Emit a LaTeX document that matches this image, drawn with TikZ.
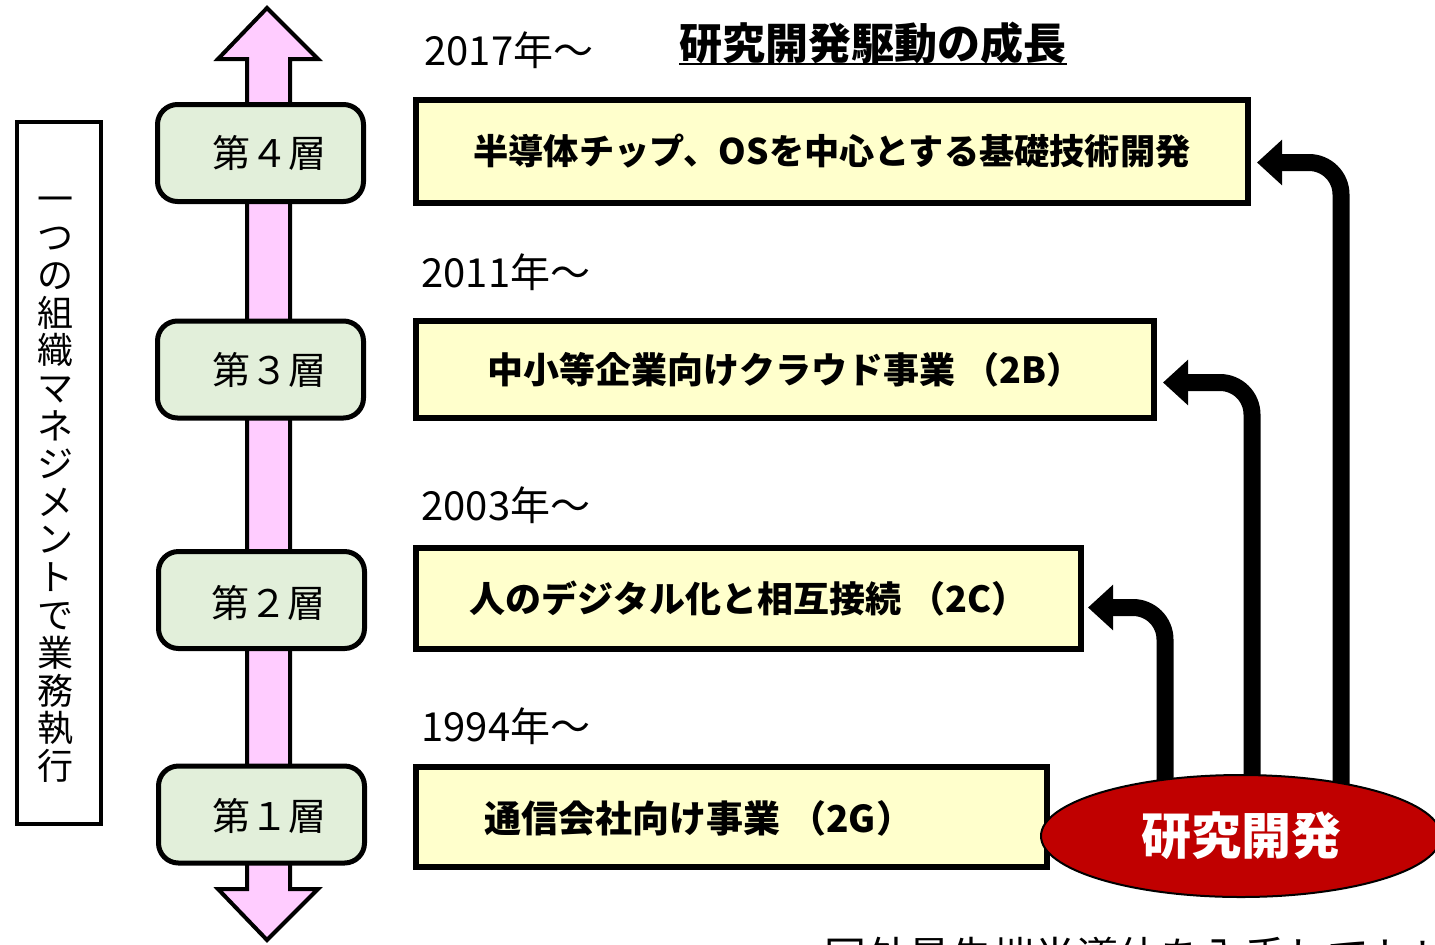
\documentclass[tikz,border=0pt]{standalone}
\usepackage{fontspec}
\newfontfamily\jp{Noto Sans CJK JP}
\usetikzlibrary{arrows.meta,backgrounds,shapes.geometric}
\definecolor{pinkfill}{HTML}{FFCCFF}
\definecolor{layergreen}{HTML}{E2EFDA}
\definecolor{boxyellow}{HTML}{FFFFCC}
\definecolor{rdred}{HTML}{C00000}
\begin{document}
\begin{tikzpicture}[x=0.5pt,y=-0.5pt,
  layerbox/.style={draw, line width=2.5pt, rounded corners=10pt, fill=layergreen,
    minimum width=103pt, minimum height=48.5pt, inner sep=0pt},
  layertxt/.style={inner sep=0pt, font=\jp\fontsize{19pt}{19pt}\selectfont},
  bizbox/.style={draw, line width=3pt, fill=boxyellow, inner sep=0pt,
    font=\jp\bfseries\fontsize{18pt}{18pt}\selectfont},
  yearlbl/.style={anchor=west, inner sep=0pt, font=\jp\fontsize{20pt}{20pt}\selectfont},
  conn/.style={line width=8.5pt, rounded corners=16pt,
    -{Triangle[length=12.5pt,width=22pt]}},
]
\useasboundingbox (0,0) rectangle (1435,944);

% double vertical arrow
\draw[line width=2pt, fill=pinkfill, line join=miter]
  (267,8) -- (318,59) -- (290,59) -- (290,889) -- (318,889) -- (267,940)
  -- (218,889) -- (247,889) -- (247,59) -- (218,59) -- cycle;

% layer boxes
\node[layerbox] (l4) at (260.5,153) {};
\node[layerbox] (l3) at (260.5,369.5) {};
\node[layerbox] (l2) at (261.5,600) {};
\node[layerbox] (l1) at (261.5,814.5) {};
\node[layertxt] (l4t) at (269,153) {第４層};
\node[layertxt] (l3t) at (269,370) {第３層};
\node[layertxt] (l2t) at (268,603) {第２層};
\node[layertxt] (l1t) at (269,816) {第１層};

% left vertical box
\node[draw, line width=2pt, minimum width=42pt, minimum height=351pt, inner sep=0pt] (left) at (58.5,473) {};
\node[align=center, inner sep=0pt, font=\jp\fontsize{18pt}{18.9pt}\selectfont] (lefttxt) at (55,490)
  {一\\つ\\の\\組\\織\\マ\\ネ\\ジ\\メ\\ン\\ト\\で\\業\\務\\執\\行};

% title
\node[anchor=base west, inner sep=0pt, font=\jp\bfseries\fontsize{21.5pt}{21.5pt}\selectfont] (title) at (679,59) {研究開発駆動の成長};
\draw[line width=1.1pt] ([yshift=-2.6pt]title.base west) -- ([yshift=-2.6pt]title.base east);

% year labels
\node[yearlbl] (y4) at (424,50) {2017年～};
\node[yearlbl] (y3) at (421,272) {2011年～};
\node[yearlbl] (y2) at (421,505) {2003年～};
\node[yearlbl] (y1) at (421,726) {1994年～};

% business boxes
\node[bizbox, minimum width=416pt, minimum height=51.5pt, font=\jp\bfseries\fontsize{17.6pt}{17.6pt}\selectfont] (b4) at (832,151.5) {半導体チップ、OSを中心とする基礎技術開発};
\node[bizbox, minimum width=369pt, minimum height=48.5pt] (b3) at (785,369.5) {中小等企業向けクラウド事業 （2B）};
\node[bizbox, minimum width=332.5pt, minimum height=50.5pt] (b2) at (748.5,598.5) {人のデジタル化と相互接続 （2C）};
\node[bizbox, minimum width=315.5pt, minimum height=50pt] (b1) at (731.5,817) {};
\node[inner sep=0pt, font=\jp\bfseries\fontsize{18.5pt}{18.5pt}\selectfont] (b1txt) at (699,818) {通信会社向け事業 （2G）};

% R&D ellipse
\node[ellipse, draw, line width=1pt, fill=rdred, minimum width=200pt, minimum height=61pt, inner sep=0pt,
  text=white, font=\jp\bfseries\fontsize{25pt}{25pt}\selectfont] (rd) at (1241,836) {研究開発};

\coordinate (s4) at (1341,836);
\coordinate (s3) at (1252,836);
\coordinate (s2) at (1165,836);
\begin{scope}[on background layer]
\draw[conn] (s4) |- ([xshift=3pt,yshift=-5.5pt]b4.east);
\draw[conn] (s3) |- ([xshift=3pt,yshift=-6.5pt]b3.east);
\draw[conn] (s2) |- ([xshift=2pt,yshift=-4.5pt]b2.east);
\end{scope}

% bottom (cut-off) text
\node[anchor=base west, inner sep=0pt, font=\jp\fontsize{21pt}{21pt}\selectfont] (bottom) at (824,972) {国外最先端半導体を入手してトレーニング};
\end{tikzpicture}
\end{document}
